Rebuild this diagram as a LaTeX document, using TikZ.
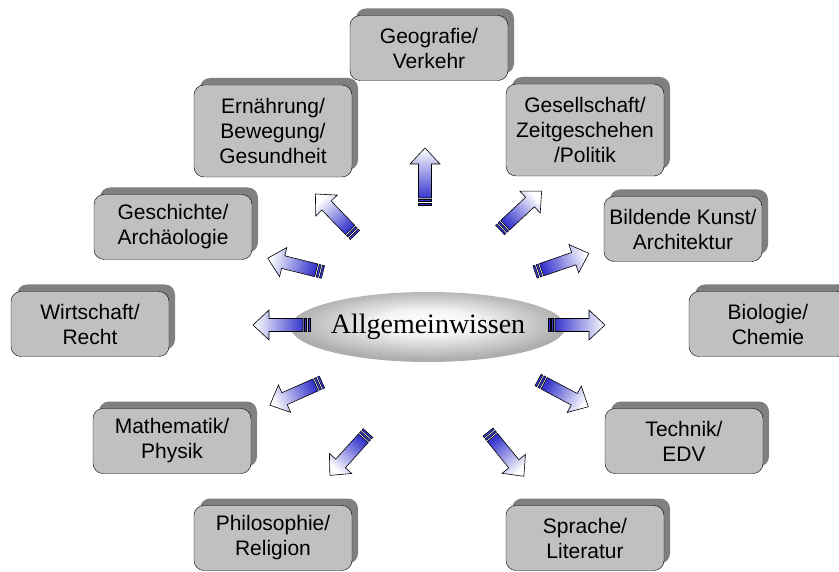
\documentclass[tikz,border=0pt]{standalone}
\usepackage{fontspec}
\setmainfont{Liberation Sans}
\newfontfamily\timesfont{Liberation Serif}
\usetikzlibrary{shadows,shapes.geometric}

\definecolor{boxgray}{RGB}{192,192,192}
\definecolor{shadowgray}{RGB}{128,128,128}
\definecolor{arrowblue}{RGB}{55,55,205}
\pgfdeclareradialshading{ellshade}{\pgfpoint{0bp}{4bp}}{color(0bp)=(white); color(9bp)=(white!96!black); color(25bp)=(black!32); color(50bp)=(black!32)}

\begin{document}
\begin{tikzpicture}[x=1pt, y=1pt,
    topic/.style={draw=black, fill=boxgray, rounded corners=10pt, minimum width=158pt,
        minimum height=65pt, align=center, inner sep=2pt, font=\fontsize{21}{25}\selectfont,
        drop shadow={shadow xshift=6pt, shadow yshift=7pt, fill=shadowgray, opacity=1}},
    tall/.style={minimum height=92pt},
    arrowbody/.style={draw=black, line width=.6pt, top color=white, bottom color=arrowblue},
    stripe/.style={draw=black, line width=.5pt, fill=arrowblue}]
    \useasboundingbox (0,0) rectangle (839,-572);

    % centre
    \node[ellipse, shading=ellshade, minimum width=226pt, minimum height=70pt, inner sep=0pt,
        font=\timesfont\fontsize{28}{30}\selectfont] (allg) at (428,-327) {Allgemeinwissen};

    % topics
    \node[topic] (geo) at (429,-48) {Geografie/\\Verkehr};
    \node[topic, tall] (ern) at (273,-131) {Ernährung/\\Bewegung/\\Gesundheit};
    \node[topic, tall] (ges) at (585,-130) {Gesellschaft/\\Zeitgeschehen\\/Politik};
    \node[topic] (gesch) at (173,-227) {Geschichte/\\Archäologie};
    \node[topic] (kunst) at (683,-229) {Bildende Kunst/\\Architektur};
    \node[topic] (wirt) at (90,-324) {Wirtschaft/\\Recht};
    \node[topic] (bio) at (768,-324) {Biologie/\\Chemie};
    \node[topic] (mathe) at (172,-441) {Mathematik/\\Physik};
    \node[topic] (technik) at (684,-441) {Technik/\\EDV};
    \node[topic] (philo) at (273,-538) {Philosophie/\\Religion};
    \node[topic] (sprache) at (585,-538) {Sprache/\\Literatur};

    % arrow tails
    \coordinate (a1) at (425,-205);
    \coordinate (a2) at (355,-235);
    \coordinate (a3) at (500,-230);
    \coordinate (a4) at (323,-272);
    \coordinate (a5) at (535,-272);
    \coordinate (a6) at (310,-325);
    \coordinate (a7) at (548,-325);
    \coordinate (a8) at (322,-382);
    \coordinate (a9) at (538,-380);
    \coordinate (a10) at (368,-433);
    \coordinate (a11) at (488,-432);

    \foreach \t/\a in {a1/90, a2/134, a3/43, a4/166, a5/19, a6/180, a7/0, a8/204, a9/332, a10/228, a11/309} {
        \pgfmathsetmacro\sa{\a-90}
        \begin{scope}[shift={(\t)}, rotate=\a]
            \draw[arrowbody, shading angle=\sa] (7,-6.5) -- (41,-6.5) -- (41,-15) -- (57,0) -- (41,15) -- (41,6.5) -- (7,6.5) -- cycle;
            \draw[stripe] (0,-6.5) rectangle (2,6.5);
            \draw[stripe] (3.5,-6.5) rectangle (5.5,6.5);
        \end{scope}
    }
\end{tikzpicture}
\end{document}
